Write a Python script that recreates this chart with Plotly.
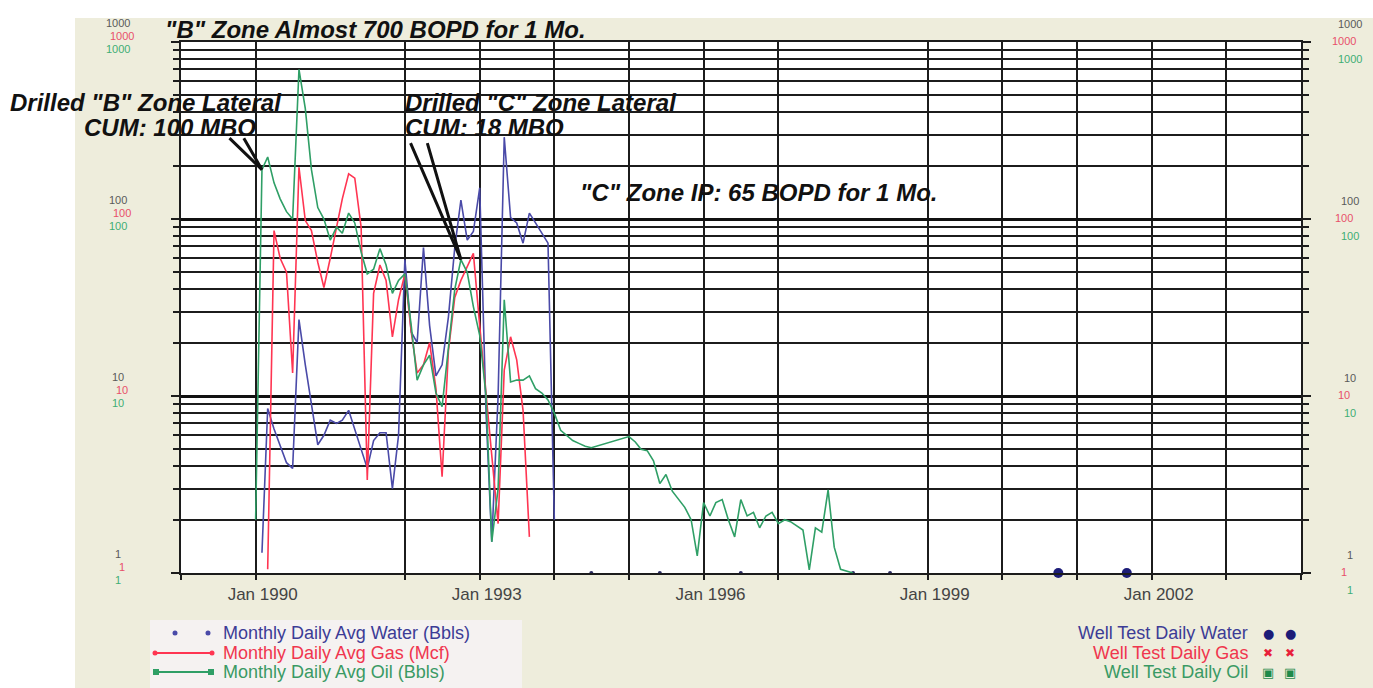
import numpy as np
import pandas as pd
import plotly.graph_objects as go

# ---- monthly daily averages (consecutive months starting at the *_START month) ----
WATER_START = "1990-02"
WATER_BBLS = [1.3, 8.5, 6.5, 5.2, 4.2, 3.9, 27, 15, 9, 5.3, 6, 7.3, 7.0, 7.3, 8.3, 6.5,
              5.0, 3.9, 5.6, 6.2, 6.2, 3.0, 6, 59, 23, 20, 69, 25, 13, 15, 28, 69,
              128, 76, 85, 150, 8, 1.5, 10, 290, 102, 95, 73, 108, 95, 83, 73, 2.0]
# later sparse water readings
WATER_LATE_MONTHS = ["1994-07", "1995-06", "1996-07", "1998-01", "1998-07"]
WATER_LATE_BBLS = [1, 1, 1, 1, 1]

GAS_START = "1990-03"
GAS_MCF = [1.05, 86, 60, 50, 13.5, 196, 98, 86, 57, 41, 60, 90, 130, 180, 170, 90,
           3.35, 38, 55, 45, 21.6, 35, 49, 23, 13.5, 15, 20, 11, 3.5, 18, 36, 45,
           54, 64, 25, 10, 4.3, 1.9, 14, 21.6, 16, 8.3, 1.6]

OIL_START = "1990-01"
OIL_BOPD = [2.0, 190, 224, 160, 130, 110, 100, 700, 420, 190, 116, 100, 76, 90, 83, 108,
            95, 65, 49, 52, 68, 55, 38, 45, 49, 25, 12.3, 15, 17, 10.4, 8.7, 18,
            40, 59, 50, 32, 22, 10, 1.5, 3, 35, 12, 12.3, 12.3, 13, 11, 10.4, 9.5,
            8, 6.4, 6.0, 5.6, 5.4, 5.2, 5.1, None, None, None, None, None, 5.9, 5.5,
            5.0, 4.9, 4.3, 3.2, 3.6, 2.9, 2.6, 2.35, 2.0, 1.25, 2.5, 2.1, 2.5, 2.6,
            2.0, 1.6, 2.6, 2.1, 2.2, 1.8, 2.1, 2.2, 1.9, 2.0, 1.95, None, 1.75, 1.04,
            1.8, 1.7, 2.95, 1.4, 1.05, None, 1.0]

# ---- well tests ----
WELLTEST_WATER_MONTHS = ["2000-10", "2001-09"]
WELLTEST_WATER_BBLS = [1, 1]

# ---- axis ticks / grid ----
GRID_YEARS = [1989, 1990, 1992, 1993, 1994, 1995, 1996, 1997, 1999, 2000, 2001, 2002, 2003, 2004]
LABEL_YEARS = [1990, 1993, 1996, 1999, 2002]
DECADES = [1, 10, 100, 1000]
MINOR_VALUES = [m * d for d in (1, 10, 100) for m in range(2, 10)]

# ---- annotation texts ----
NOTE_B_PEAK = '"B" Zone Almost 700 BOPD for 1 Mo.'
NOTE_B_DRILL = 'Drilled "B" Zone Lateral'
NOTE_B_CUM = 'CUM: 100 MBO'
NOTE_C_DRILL = 'Drilled "C" Zone Lateral'
NOTE_C_CUM = 'CUM: 18 MBO'
NOTE_C_IP = '"C" Zone IP: 65 BOPD for 1 Mo.'

WATER_C = "#4a4aa8"
GAS_C = "#ff3552"
OIL_C = "#2f9f66"
FONT = "Liberation Sans, Arial, sans-serif"

W, H = 1373, 688
L, R, T, B = 181, 72, 42, 115
PW, PH = W - L - R, H - T - B


def px(x):
    return (x - L) / PW


def py(y):
    return (H - B - y) / PH


def monthly(start, values):
    idx = pd.date_range(start=start, periods=len(values), freq="MS")
    return pd.Series(values, index=idx, dtype="float64")


water = monthly(WATER_START, WATER_BBLS)
water_late = pd.Series(WATER_LATE_BBLS, index=pd.to_datetime(WATER_LATE_MONTHS), dtype="float64")
gas = monthly(GAS_START, GAS_MCF)
oil = monthly(OIL_START, OIL_BOPD)

fig = go.Figure()
fig.add_trace(go.Scatter(
    x=water.index, y=water.values, mode="lines", name="Monthly Daily Avg Water (Bbls)",
    line=dict(color=WATER_C, width=1.6), cliponaxis=False, showlegend=False))
fig.add_trace(go.Scatter(
    x=water_late.index, y=water_late.values, mode="markers", name="Monthly Daily Avg Water (Bbls)",
    marker=dict(size=4, color="#2a2a60"), cliponaxis=False, showlegend=False))
fig.add_trace(go.Scatter(
    x=gas.index, y=gas.values, mode="lines", name="Monthly Daily Avg Gas (Mcf)",
    line=dict(color=GAS_C, width=1.6), cliponaxis=False, showlegend=False))
fig.add_trace(go.Scatter(
    x=oil.index, y=oil.values, mode="lines", name="Monthly Daily Avg Oil (Bbls)",
    line=dict(color=OIL_C, width=1.6), connectgaps=True, cliponaxis=False, showlegend=False))
fig.add_trace(go.Scatter(
    x=pd.to_datetime(WELLTEST_WATER_MONTHS), y=WELLTEST_WATER_BBLS, mode="markers",
    name="Well Test Daily Water", marker=dict(size=10, color="#1c1c78"),
    cliponaxis=False, showlegend=False))

shapes = [
    dict(type="rect", xref="paper", yref="paper", x0=px(75), x1=px(W), y0=py(H), y1=py(18),
         fillcolor="#eeeddc", line=dict(width=0), layer="below"),
    dict(type="rect", xref="paper", yref="paper", x0=px(150), x1=px(522), y0=py(H), y1=py(620),
         fillcolor="#f5f2f1", line=dict(width=0), layer="below"),
    dict(type="rect", xref="paper", yref="paper", x0=0, x1=1, y0=0, y1=1,
         fillcolor="white", line=dict(width=0), layer="below"),
]


# legend symbols (left block)
def dot(cx, cy, r, color, kind="circle"):
    return dict(type=kind, xref="paper", yref="paper", x0=px(cx - r), x1=px(cx + r),
                y0=py(cy + r), y1=py(cy - r), fillcolor=color, line=dict(width=0))


shapes += [dot(175, 633, 2.5, WATER_C), dot(208, 633, 2.5, WATER_C)]
shapes += [dict(type="line", xref="paper", yref="paper", x0=px(153), x1=px(214), y0=py(653), y1=py(653),
                line=dict(color=GAS_C, width=2)),
           dot(155, 653, 2.5, GAS_C), dot(212, 653, 2.5, GAS_C)]
shapes += [dict(type="line", xref="paper", yref="paper", x0=px(153), x1=px(214), y0=py(672), y1=py(672),
                line=dict(color=OIL_C, width=2)),
           dot(156, 672, 3, OIL_C, "rect"), dot(211, 672, 3, OIL_C, "rect")]

annotations = []


def note(text, x, y, size=24, anchor="left"):
    annotations.append(dict(text="<b><i>%s</i></b>" % text, xref="paper", yref="paper",
                            x=px(x), y=py(y), xanchor=anchor, yanchor="middle", showarrow=False,
                            font=dict(family=FONT, size=size, color="#111")))


note(NOTE_B_PEAK, 163, 30)
note(NOTE_B_DRILL, 8, 103)
note(NOTE_B_CUM, 82, 127)
note(NOTE_C_DRILL, 403, 103)
note(NOTE_C_CUM, 403, 127)
note(NOTE_C_IP, 578, 193)

# pointer lines to the drilling events on the oil curve
b_when = pd.Timestamp("1990-02-01")
c_when = pd.Timestamp("1992-10-01")
for when, offsets in ((b_when, [(-34, -33), (-19, -33)]), (c_when, [(-51, -118), (-34, -118)])):
    for ax, ay in offsets:
        annotations.append(dict(x=when, y=np.log10(oil[when]), xref="x", yref="y", text="",
                                showarrow=True, arrowhead=0, arrowwidth=3, arrowcolor="#111",
                                ax=ax, ay=ay, standoff=0))

# stacked tick labels for the three scales on both sides
LABEL_COLORS = ["#5a5a5a", "#e8506a", "#3fae74"]
LEFT_SHIFTS = [19, 6, -7]
RIGHT_SHIFTS = [18, 1, -17]
for v in DECADES:
    for color, ls, rs, xl, xr in zip(LABEL_COLORS, LEFT_SHIFTS, RIGHT_SHIFTS, (118, 122, 118), (1350, 1344, 1350)):
        for xpos, shift in ((xl, ls), (xr, rs)):
            annotations.append(dict(text=str(v), xref="paper", yref="y", x=px(xpos), y=np.log10(v),
                                    yshift=shift, showarrow=False, xanchor="center", yanchor="middle",
                                    font=dict(family=FONT, size=11, color=color)))

# legend texts
LEFT_LEGEND = [("Monthly Daily Avg Water (Bbls)", "#3c3c96", 633),
               ("Monthly Daily Avg Gas (Mcf)", "#f0364e", 653),
               ("Monthly Daily Avg Oil (Bbls)", "#3a9a64", 672)]
for text, color, y in LEFT_LEGEND:
    annotations.append(dict(text=text, xref="paper", yref="paper", x=px(221), y=py(y), xanchor="left",
                            yanchor="middle", showarrow=False, font=dict(family=FONT, size=18, color=color)))

RIGHT_LEGEND = [("Well Test Daily Water", "#3c3c96", 633, "●", "#1c1c78", 13),
                ("Well Test Daily Gas", "#f0364e", 653, "✖", "#e8203a", 12),
                ("Well Test Daily Oil", "#3a9a64", 672, "▣", "#1f8a4a", 13)]
for text, color, y, sym, scol, ssize in RIGHT_LEGEND:
    annotations.append(dict(text=text, xref="paper", yref="paper", x=px(1250), y=py(y), xanchor="right",
                            yanchor="middle", showarrow=False, font=dict(family=FONT, size=18, color=color)))
    for sx in (1268, 1290):
        annotations.append(dict(text=sym, xref="paper", yref="paper", x=px(sx), y=py(y), xanchor="center",
                                yanchor="middle", showarrow=False,
                                font=dict(family="DejaVu Sans", size=ssize, color=scol)))

fig.update_layout(
    width=W, height=H, autosize=False,
    margin=dict(l=L, r=R, t=T, b=B, pad=0),
    paper_bgcolor="white", plot_bgcolor="white",
    font=dict(family=FONT),
    showlegend=False,
    shapes=shapes,
    annotations=annotations,
    xaxis=dict(
        type="date", range=["1989-01-01", "2004-01-01"],
        tickmode="array",
        tickvals=[pd.Timestamp(year=y, month=1, day=1) for y in GRID_YEARS],
        ticktext=["Jan %d" % y if y in LABEL_YEARS else "" for y in GRID_YEARS],
        showgrid=True, gridcolor="#1c1c1c", gridwidth=1.6,
        showline=True, linecolor="#1c1c1c", linewidth=2, mirror=True,
        ticks="outside", ticklen=5, tickwidth=2, tickcolor="#1c1c1c",
        ticklabelshift=7,
        tickfont=dict(family=FONT, size=17, color="#444"),
        zeroline=False, fixedrange=True,
    ),
    yaxis=dict(
        type="log", range=[0, 3],
        tickmode="array", tickvals=DECADES, showticklabels=False,
        showgrid=True, gridcolor="#111", gridwidth=3,
        showline=True, linecolor="#1c1c1c", linewidth=2, mirror="ticks",
        ticks="outside", ticklen=8, tickwidth=2, tickcolor="#1c1c1c",
        minor=dict(tickmode="array", tickvals=MINOR_VALUES, showgrid=True, gridcolor="#1c1c1c",
                   gridwidth=1.6, ticks="outside", ticklen=6, tickwidth=1.6, tickcolor="#1c1c1c"),
        zeroline=False, fixedrange=True,
    ),
)

fig.write_html("out.html")
